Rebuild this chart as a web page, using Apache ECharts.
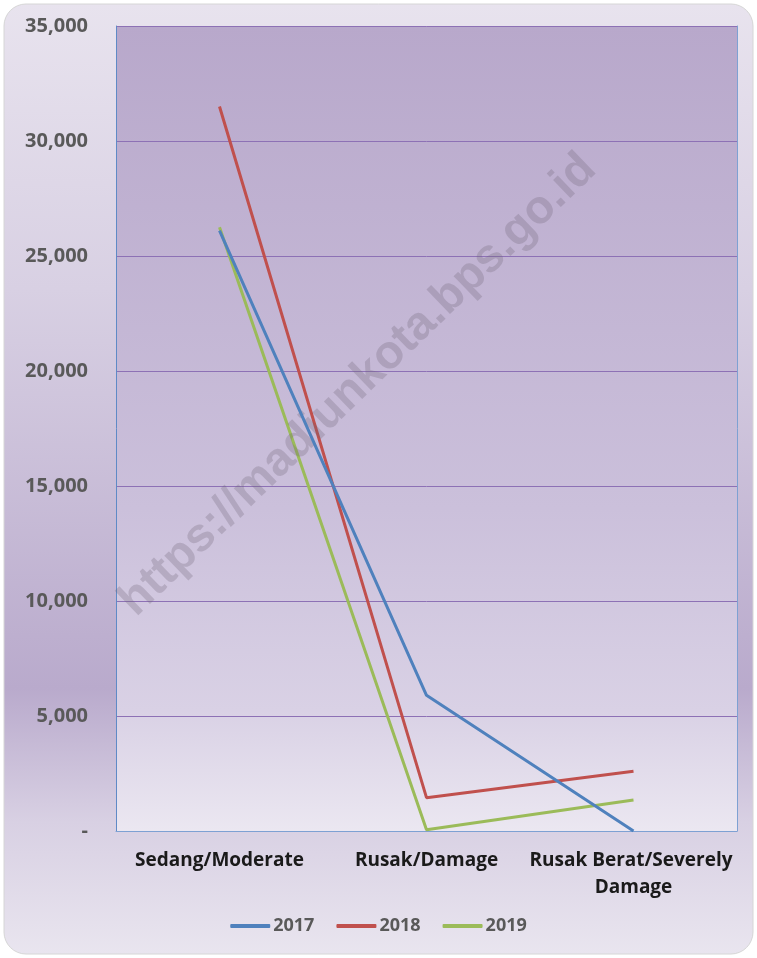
<!DOCTYPE html>
<html><head><meta charset="utf-8">
<script src="https://cdn.jsdelivr.net/npm/echarts@6/dist/echarts.min.js"></script>
<style>html,body{margin:0;padding:0;background:#fff;}#c{width:757px;height:958px;}</style>
</head><body><div id="c"></div>
<script>
const categories = ['Sedang/Moderate', 'Rusak/Damage', 'Rusak Berat/Severely Damage'];
const seriesNames = ['2017', '2018', '2019'];
const values2017 = [26100, 5900, 0];
const values2018 = [31500, 1450, 2600];
const values2019 = [26250, 50, 1350];
const yTicks = { min: 0, max: 35000, interval: 5000 };
const colors = ['#4f81bd', '#c0504d', '#9bbb59'];
const FONT = '"Open Sans", "Noto Sans", sans-serif';

const chart = echarts.init(document.getElementById('c'), null, { renderer: 'canvas' });
const lg = (stops) => ({ type: 'linear', x: 0, y: 0, x2: 0, y2: 1, colorStops: stops.map(s => ({ offset: s[0], color: s[1] })) });

const data = [values2017, values2018, values2019];
chart.setOption({
  animation: false,
  backgroundColor: '#ffffff',
  graphic: [
    { type: 'rect', z: -10, shape: { x: 4, y: 4, width: 749, height: 950, r: 22 },
      style: { fill: lg([[0, '#e8e3ee'], [0.3, '#d8d0e3'], [0.72, '#b9aacc'], [0.86, '#d8d0e3'], [1, '#e9e5ef']]), stroke: '#d6d6d6', lineWidth: 1 } },
    { type: 'text', z: 5, x: 358, y: 385, rotation: 44 * Math.PI / 180,
      style: { text: 'https://madiunkota.bps.go.id', font: 'bold 47px "Liberation Sans", Arial, sans-serif', fill: 'rgba(110,100,120,0.28)', textAlign: 'center', textVerticalAlign: 'middle' } }
  ],
  grid: { left: 116, right: 20, top: 26, bottom: 127, show: true, borderWidth: 0,
    backgroundColor: lg([[0, '#b8a8cb'], [0.6, '#cbc0db'], [0.85, '#d9d1e5'], [1, '#ebe7f1']]) },
  legend: {
    data: seriesNames, bottom: 18, left: 'center', icon: 'roundRect', itemWidth: 40, itemHeight: 4, itemGap: 22,
    textStyle: { color: '#595959', fontSize: 18, fontFamily: FONT, fontWeight: 'bold', padding: [0, 0, 0, -2] }
  },
  xAxis: [{
    type: 'category', data: categories, boundaryGap: true,
    axisLine: { show: false }, axisTick: { show: false },
    axisLabel: { color: '#1a1a1a', fontSize: 19, fontWeight: 'bold', fontFamily: FONT, margin: 16, width: 212, overflow: 'break', lineHeight: 27, interval: 0 }
  }, {
    type: 'category', data: categories, position: 'top',
    axisLine: { show: true, lineStyle: { color: '#7ea1d3', width: 1 } }, axisTick: { show: false }, axisLabel: { show: false }
  }],
  yAxis: [{
    type: 'value', min: yTicks.min, max: yTicks.max, interval: yTicks.interval,
    axisLine: { show: true, lineStyle: { color: '#5f8ac6', width: 1 } }, axisTick: { show: false },
    splitLine: { lineStyle: { color: '#8d71b5', width: 1 } },
    axisLabel: { color: '#595959', fontSize: 20, fontWeight: 'bold', fontFamily: FONT, margin: 28,
      formatter: v => v === 0 ? '-' : v.toLocaleString('en-US') }
  }, {
    type: 'value', min: yTicks.min, max: yTicks.max, interval: yTicks.interval, position: 'right',
    axisLine: { show: true, lineStyle: { color: '#7ea1d3', width: 1 } }, axisTick: { show: false },
    splitLine: { show: false }, axisLabel: { show: false }
  }],
  series: seriesNames.map((n, i) => ({
    name: n, type: 'line', data: data[i], symbol: 'none', z: 3 - i + 2,
    lineStyle: { color: colors[i], width: 3 }, itemStyle: { color: colors[i] }
  }))
});
</script></body></html>
